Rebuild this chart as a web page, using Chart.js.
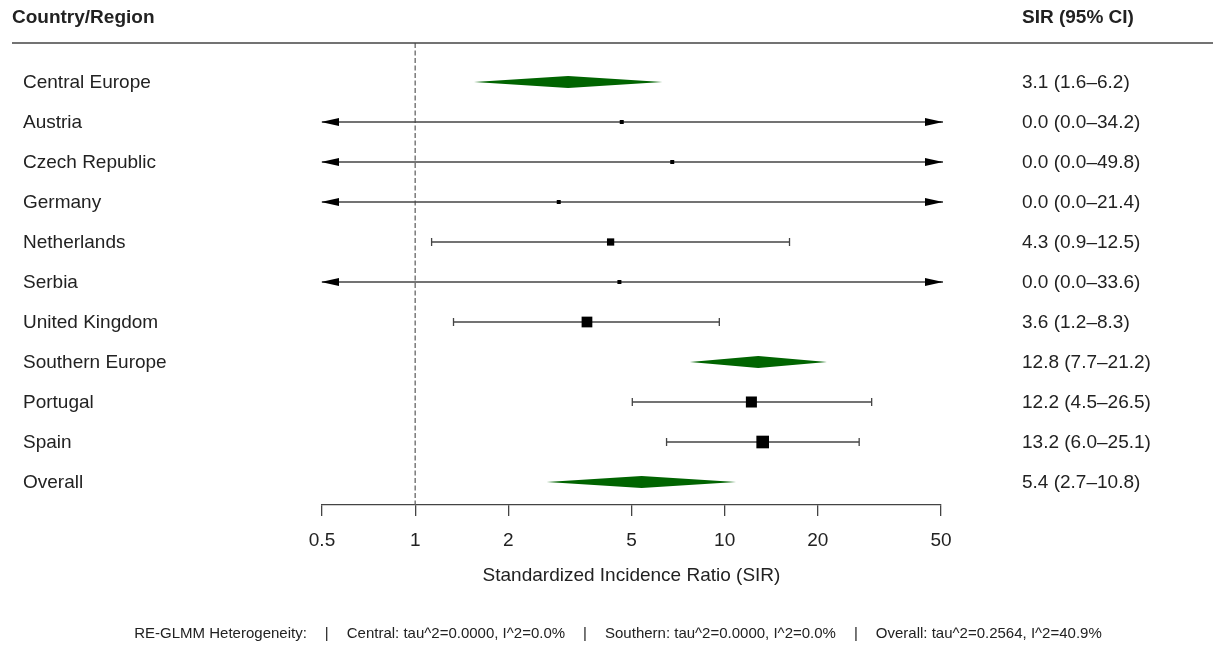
<!DOCTYPE html>
<html>
<head>
<meta charset="utf-8">
<script src="https://cdn.jsdelivr.net/npm/chart.js@4/dist/chart.umd.min.js"></script>
<style>
  html, body { margin: 0; background: #fff; }
  canvas { display: block; }
</style>
</head>
<body>
<canvas id="forest" width="1213" height="646"></canvas>
<script>
// rows top to bottom
const rows = ['Central Europe', 'Austria', 'Czech Republic', 'Germany', 'Netherlands', 'Serbia',
  'United Kingdom', 'Southern Europe', 'Portugal', 'Spain', 'Overall']
const isSummary = [true, false, false, false, false, false, false, true, false, false, true]

// printed SIR (95% CI)
const sirEst  = [3.1, 0.0, 0.0, 0.0, 4.3, 0.0, 3.6, 12.8, 12.2, 13.2, 5.4]
const sirLow  = [1.6, 0.0, 0.0, 0.0, 0.9, 0.0, 1.2, 7.7, 4.5, 6.0, 2.7]
const sirHigh = [6.2, 34.2, 49.8, 21.4, 12.5, 33.6, 8.3, 21.2, 26.5, 25.1, 10.8]

// plotted positions
const plotEst  = [3.12, 4.65, 6.77, 2.91, 4.28, 4.57, 3.59, 12.84, 12.2, 13.27, 5.39]
const plotLow  = [1.55, 0.5, 0.5, 0.5, 1.13, 0.5, 1.33, 7.72, 5.03, 6.49, 2.66]
const plotHigh = [6.29, 50, 50, 50, 16.2, 50, 9.61, 21.4, 29.85, 27.2, 10.88]
const clipped  = [false, true, true, true, false, true, false, false, false, false, false]
const weights  = [0, 1, 1, 1, 3.3, 1, 7.2, 0, 7.6, 10, 0]

const xTicks = [0.5, 1, 2, 5, 10, 20, 50]
const footParts = ['RE-GLMM Heterogeneity:', 'Central: tau^2=0.0000, I^2=0.0%',
  'Southern: tau^2=0.0000, I^2=0.0%', 'Overall: tau^2=0.2564, I^2=40.9%']

const FONT = "'Liberation Sans', Arial, sans-serif"
const INK = '#222'
const LINE = '#444'
const GREEN = '#006400'

Chart.defaults.font.family = FONT
Chart.defaults.color = INK

const studyIdx = rows.map((r, i) => i).filter(i => !isSummary[i])

const datasets = [
  {
    // null line at SIR = 1
    data: [{ x: 1, y: -0.975 }, { x: 1, y: 10.575 }],
    showLine: true, borderColor: '#666', borderWidth: 1.3, borderDash: [5, 2.5],
    pointRadius: 0, order: 10,
  },
  ...studyIdx.map(i => ({
    data: [{ x: plotLow[i], y: i }, { x: plotHigh[i], y: i }],
    showLine: true, borderColor: LINE, borderWidth: 1.6,
    pointStyle: 'line', pointRotation: 90, pointRadius: clipped[i] ? 0 : 4,
    pointBorderColor: LINE, pointBorderWidth: 1.3, order: 5,
  })),
  {
    data: studyIdx.map(i => ({ x: plotEst[i], y: i })),
    pointStyle: 'rect',
    pointRadius: studyIdx.map(i => 4 * Math.sqrt(weights[i]) / Math.SQRT2),
    backgroundColor: '#000', borderWidth: 0, pointBorderWidth: 0, order: 1,
  },
]

const forestPlugin = {
  id: 'forest',
  afterDatasetsDraw(chart) {
    const { ctx, scales: { x, y } } = chart
    ctx.save()
    rows.forEach((r, i) => {
      const cy = y.getPixelForValue(i)
      if (isSummary[i]) {
        ctx.beginPath()
        ctx.moveTo(x.getPixelForValue(plotLow[i]), cy)
        ctx.lineTo(x.getPixelForValue(plotEst[i]), y.getPixelForValue(i - 0.15))
        ctx.lineTo(x.getPixelForValue(plotHigh[i]), cy)
        ctx.lineTo(x.getPixelForValue(plotEst[i]), y.getPixelForValue(i + 0.15))
        ctx.closePath()
        ctx.fillStyle = GREEN
        ctx.fill()
      } else if (clipped[i]) {
        const l = x.getPixelForValue(plotLow[i]) - 1
        const h = x.getPixelForValue(plotHigh[i]) + 2
        ctx.fillStyle = '#000'
        ctx.beginPath()
        ctx.moveTo(l, cy); ctx.lineTo(l + 18, cy - 4); ctx.lineTo(l + 18, cy + 4)
        ctx.closePath(); ctx.fill()
        ctx.strokeStyle = LINE; ctx.lineWidth = 1.6
        ctx.beginPath(); ctx.moveTo(x.right - 1, cy); ctx.lineTo(h, cy); ctx.stroke()
        ctx.beginPath()
        ctx.moveTo(h, cy); ctx.lineTo(h - 18, cy - 4); ctx.lineTo(h - 18, cy + 4)
        ctx.closePath(); ctx.fill()
      }
    })
    ctx.restore()
  },
  afterDraw(chart) {
    const { ctx, chartArea, scales: { y } } = chart
    ctx.save()
    // header rule
    ctx.strokeStyle = LINE; ctx.lineWidth = 1.5
    ctx.beginPath(); ctx.moveTo(12, chartArea.top); ctx.lineTo(chart.width, chartArea.top); ctx.stroke()

    ctx.fillStyle = INK
    ctx.textBaseline = 'middle'
    ctx.textAlign = 'left'
    ctx.font = `bold 19px ${FONT}`
    ctx.fillText('Country/Region', 12, 18)
    ctx.fillText('SIR (95% CI)', 1022, 18)

    ctx.font = `19px ${FONT}`
    rows.forEach((r, i) => {
      const cy = y.getPixelForValue(i) + 1
      ctx.fillText(r, 23, cy)
      ctx.fillText(`${sirEst[i].toFixed(1)} (${sirLow[i].toFixed(1)}\u2013${sirHigh[i].toFixed(1)})`, 1022, cy)
    })

    // footnote
    ctx.font = `15px ${FONT}`
    const gap = 18
    const sep = ctx.measureText('|').width
    const widths = footParts.map(s => ctx.measureText(s).width)
    const total = widths.reduce((a, b) => a + b, 0) + (footParts.length - 1) * (2 * gap + sep)
    let fx = 618 - total / 2
    footParts.forEach((s, k) => {
      ctx.fillText(s, fx, 634)
      fx += widths[k]
      if (k < footParts.length - 1) {
        ctx.fillText('|', fx + gap, 634)
        fx += 2 * gap + sep
      }
    })
    ctx.restore()
  },
}

new Chart(document.getElementById('forest'), {
  type: 'scatter',
  data: { datasets },
  options: {
    responsive: false,
    animation: false,
    devicePixelRatio: 1,
    layout: { padding: { left: 322, right: 272, top: 43, bottom: 0 } },
    plugins: { legend: { display: false }, tooltip: { enabled: false } },
    scales: {
      x: {
        type: 'logarithmic',
        min: 0.5, max: 50,
        afterBuildTicks: axis => { axis.ticks = xTicks.map(v => ({ value: v })) },
        afterFit: axis => { axis.height = 141 },
        ticks: {
          callback: v => String(v),
          autoSkip: false, maxRotation: 0, padding: 13,
          font: { size: 19 }, color: INK,
        },
        grid: { drawOnChartArea: false, drawTicks: true, tickLength: 11, color: LINE, lineWidth: 1.3 },
        border: { display: true, color: LINE, width: 1.3 },
        title: {
          display: true, text: 'Standardized Incidence Ratio (SIR)',
          font: { size: 19 }, color: INK, padding: { top: 0, bottom: 59 },
        },
      },
      y: {
        type: 'linear', min: -0.975, max: 10.575, reverse: true, display: false,
      },
    },
  },
  plugins: [forestPlugin],
})
</script>
</body>
</html>
